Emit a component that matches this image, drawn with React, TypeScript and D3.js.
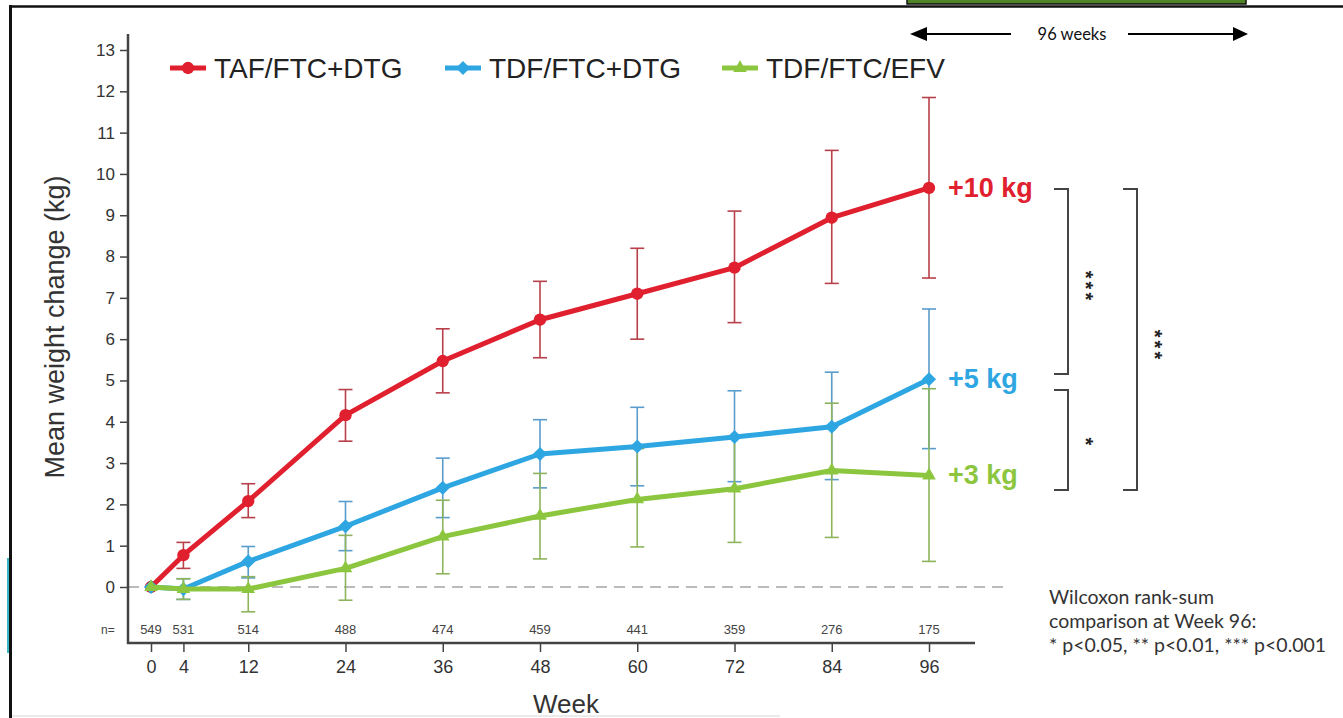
import { useEffect, useRef } from 'react'
import * as d3 from 'd3'

const weeks = [0, 4, 12, 24, 36, 48, 60, 72, 84, 96]
const nAtRisk = [549, 531, 514, 488, 474, 459, 441, 359, 276, 175]
const yTicks = [0, 1, 2, 3, 4, 5, 6, 7, 8, 9, 10, 11, 12, 13]

const tafMean = [0, 0.77, 2.08, 4.16, 5.47, 6.47, 7.1, 7.73, 8.94, 9.66]
const tafLow = [0, 0.45, 1.68, 3.53, 4.7, 5.55, 6.0, 6.4, 7.35, 7.48]
const tafHigh = [0, 1.08, 2.5, 4.78, 6.25, 7.4, 8.2, 9.1, 10.57, 11.85]

const dtgMean = [0, -0.05, 0.62, 1.47, 2.4, 3.22, 3.4, 3.63, 3.88, 5.03]
const dtgLow = [0, -0.3, 0.22, 0.88, 1.68, 2.4, 2.45, 2.55, 2.6, 3.35]
const dtgHigh = [0, 0.2, 0.98, 2.07, 3.12, 4.05, 4.35, 4.75, 5.2, 6.73]

const efvMean = [0, -0.05, -0.05, 0.45, 1.22, 1.72, 2.12, 2.38, 2.82, 2.7]
const efvLow = [0, -0.3, -0.6, -0.32, 0.32, 0.68, 0.97, 1.08, 1.2, 0.62]
const efvHigh = [0, 0.2, 0.25, 1.25, 2.1, 2.75, 3.35, 3.65, 4.45, 4.8]

const seriesNames = ['TAF/FTC+DTG', 'TDF/FTC+DTG', 'TDF/FTC/EFV']
const endLabels = ['+10 kg', '+5 kg', '+3 kg']
const noteLines = [
  'Wilcoxon rank-sum',
  'comparison at Week 96:',
  '* p<0.05, ** p<0.01, *** p<0.001',
]

const W = 1343
const H = 718
const FONT = '"Liberation Sans", Arial, sans-serif'
const NOTE_FONT = 'Lato, "Open Sans", sans-serif'

export default function App() {
  const svgRef = useRef<SVGSVGElement | null>(null)

  useEffect(() => {
    if (!svgRef.current) return
    const svg = d3.select(svgRef.current)
    svg.selectAll('*').remove()

    const x = d3.scaleLinear().domain([0, 96]).range([151, 929])
    const y = d3.scaleLinear().domain([0, 13]).range([587, 50])
    const axisY = 643
    const axisX = 128

    const series = [
      { name: seriesNames[0], mean: tafMean, low: tafLow, high: tafHigh, color: '#e0202e', bar: '#b8404a', symbol: d3.symbolCircle, size: 120, rot: 0, label: endLabels[0] },
      { name: seriesNames[1], mean: dtgMean, low: dtgLow, high: dtgHigh, color: '#2ea6e2', bar: '#5a9ccc', symbol: d3.symbolSquare, size: 100, rot: 45, label: endLabels[1] },
      { name: seriesNames[2], mean: efvMean, low: efvLow, high: efvHigh, color: '#8cc63f', bar: '#8db45c', symbol: d3.symbolTriangle, size: 80, rot: 0, label: endLabels[2] },
    ]

    // frame pieces
    svg.append('rect').attr('x', 907).attr('y', -2).attr('width', 339).attr('height', 6)
      .attr('fill', '#4f8526').attr('stroke', '#111').attr('stroke-width', 1.5)
    svg.append('line').attr('x1', 9).attr('x2', W).attr('y1', 6.5).attr('y2', 6.5)
      .attr('stroke', '#111').attr('stroke-width', 2.5)
    svg.append('line').attr('x1', 10.5).attr('x2', 10.5).attr('y1', 5).attr('y2', H)
      .attr('stroke', '#111').attr('stroke-width', 3)
    svg.append('line').attr('x1', 8).attr('x2', 8).attr('y1', 558).attr('y2', 653)
      .attr('stroke', '#3bb8c8').attr('stroke-width', 2)
    svg.append('line').attr('x1', 12).attr('x2', 780).attr('y1', 716).attr('y2', 716)
      .attr('stroke', '#e4e4e4').attr('stroke-width', 1.5)

    // 96 weeks arrow
    const arrowY = 34
    svg.append('line').attr('x1', 924).attr('x2', 1011).attr('y1', arrowY).attr('y2', arrowY)
      .attr('stroke', '#000').attr('stroke-width', 2)
    svg.append('path').attr('d', `M910,${arrowY} L927,${arrowY - 7} L927,${arrowY + 7} Z`).attr('fill', '#000')
    svg.append('line').attr('x1', 1128).attr('x2', 1236).attr('y1', arrowY).attr('y2', arrowY)
      .attr('stroke', '#000').attr('stroke-width', 2)
    svg.append('path').attr('d', `M1248,${arrowY} L1233,${arrowY - 7} L1233,${arrowY + 7} Z`).attr('fill', '#000')
    svg.append('text').attr('x', 1072).attr('y', arrowY + 6).attr('text-anchor', 'middle')
      .attr('font-family', NOTE_FONT).attr('font-size', 16.5).attr('fill', '#111')
      .text('96 weeks')

    // zero reference
    svg.append('line').attr('x1', axisX).attr('x2', 1010).attr('y1', y(0)).attr('y2', y(0))
      .attr('stroke', '#bbb').attr('stroke-width', 2).attr('stroke-dasharray', '11,7')

    // axes
    const gy = svg.append('g').attr('transform', `translate(${axisX},0)`)
      .call(d3.axisLeft(y).tickValues(yTicks).tickSize(8).tickPadding(5))
    gy.select('.domain').remove()
    gy.selectAll('line').attr('stroke', '#444').attr('stroke-width', 1.5)
    gy.selectAll('text').attr('font-family', FONT).attr('font-size', 17).attr('fill', '#333')

    const gx = svg.append('g').attr('transform', `translate(0,${axisY})`)
      .call(d3.axisBottom(x).tickValues(weeks).tickSize(9).tickPadding(8))
    gx.select('.domain').remove()
    gx.selectAll('line').attr('stroke', '#444').attr('stroke-width', 1.5)
    gx.selectAll('text').attr('font-family', FONT).attr('font-size', 18).attr('fill', '#333')

    svg.append('line').attr('x1', axisX).attr('x2', axisX).attr('y1', 34).attr('y2', axisY + 1)
      .attr('stroke', '#444').attr('stroke-width', 2.5)
    svg.append('line').attr('x1', axisX - 1).attr('x2', 975).attr('y1', axisY).attr('y2', axisY)
      .attr('stroke', '#444').attr('stroke-width', 2.5)

    svg.append('text').attr('x', 566).attr('y', 713).attr('text-anchor', 'middle')
      .attr('font-family', FONT).attr('font-size', 26).attr('fill', '#333').text('Week')
    svg.append('text').attr('transform', 'translate(64,327) rotate(-90)').attr('text-anchor', 'middle')
      .attr('font-family', FONT).attr('font-size', 27).attr('fill', '#333').text('Mean weight change (kg)')

    // n at risk
    svg.append('text').attr('x', 101).attr('y', 634).attr('font-family', FONT)
      .attr('font-size', 12).attr('fill', '#444').text('n=')
    svg.append('g').selectAll('text').data(weeks).join('text')
      .attr('x', d => x(d)).attr('y', 634).attr('text-anchor', 'middle')
      .attr('font-family', FONT).attr('font-size', 13).attr('fill', '#444')
      .text((_, i) => nAtRisk[i])

    // error bars
    series.forEach(s => {
      const g = svg.append('g').attr('stroke', s.bar).attr('stroke-width', 1.6).attr('fill', 'none')
      weeks.forEach((w, i) => {
        if (w === 0) return
        const cx = x(w)
        g.append('line').attr('x1', cx).attr('x2', cx).attr('y1', y(s.high[i])).attr('y2', y(s.low[i]))
        g.append('line').attr('x1', cx - 7).attr('x2', cx + 7).attr('y1', y(s.high[i])).attr('y2', y(s.high[i]))
        g.append('line').attr('x1', cx - 7).attr('x2', cx + 7).attr('y1', y(s.low[i])).attr('y2', y(s.low[i]))
      })
    })

    // lines and markers
    const line = d3.line<number>().x((_, i) => x(weeks[i])).y(d => y(d))
    series.forEach(s => {
      svg.append('path').datum(s.mean).attr('d', line).attr('fill', 'none')
        .attr('stroke', s.color).attr('stroke-width', 5).attr('stroke-linejoin', 'round')
      svg.append('g').selectAll('path').data(s.mean).join('path')
        .attr('transform', (d, i) => `translate(${x(weeks[i])},${y(d)}) rotate(${s.rot})`)
        .attr('d', d3.symbol().type(s.symbol).size(s.size)())
        .attr('fill', s.color)
      svg.append('text').attr('x', x(96) + 19).attr('y', y(s.mean[s.mean.length - 1]) + 9)
        .attr('font-family', FONT).attr('font-weight', 'bold').attr('font-size', 27)
        .attr('fill', s.color).text(s.label)
    })

    // legend
    const legendX = [170, 445, 722]
    series.forEach((s, i) => {
      const g = svg.append('g').attr('transform', `translate(${legendX[i]},68)`)
      g.append('line').attr('x1', 0).attr('x2', 36).attr('y1', 0).attr('y2', 0)
        .attr('stroke', s.color).attr('stroke-width', 5)
      g.append('path').attr('transform', `translate(18,0) rotate(${s.rot})`)
        .attr('d', d3.symbol().type(s.symbol).size(s.size)()).attr('fill', s.color)
      g.append('text').attr('x', 44).attr('y', 10).attr('font-family', FONT)
        .attr('font-size', 28).attr('fill', '#222').text(s.name)
    })

    // significance brackets
    const brackets = [
      { top: 189, bottom: 374, xv: 1068, xh: 1054, stars: '***', sx: 1083, sy: 287 },
      { top: 390, bottom: 490, xv: 1068, xh: 1054, stars: '*', sx: 1083, sy: 443 },
      { top: 189, bottom: 490, xv: 1137, xh: 1123, stars: '***', sx: 1152, sy: 346 },
    ]
    brackets.forEach(b => {
      svg.append('path')
        .attr('d', `M${b.xh},${b.top} H${b.xv} V${b.bottom} H${b.xh}`)
        .attr('fill', 'none').attr('stroke', '#444').attr('stroke-width', 2)
      svg.append('text')
        .attr('transform', `translate(${b.sx - 4},${b.sy}) rotate(90)`)
        .attr('text-anchor', 'middle').attr('font-family', FONT).attr('font-size', 20)
        .attr('font-weight', 'bold').attr('letter-spacing', 3)
        .attr('fill', '#222').text(b.stars)
    })

    // note
    svg.append('g').selectAll('text').data(noteLines).join('text')
      .attr('x', 1049).attr('y', (_, i) => 604 + i * 24)
      .attr('font-family', NOTE_FONT).attr('font-size', 19.5).attr('fill', '#333')
      .text(d => d)
  }, [])

  return (
    <div style={{ position: 'absolute', left: 0, top: 0 }}>
      <svg ref={svgRef} width={W} height={H} style={{ display: 'block', background: '#fff' }} />
    </div>
  )
}
